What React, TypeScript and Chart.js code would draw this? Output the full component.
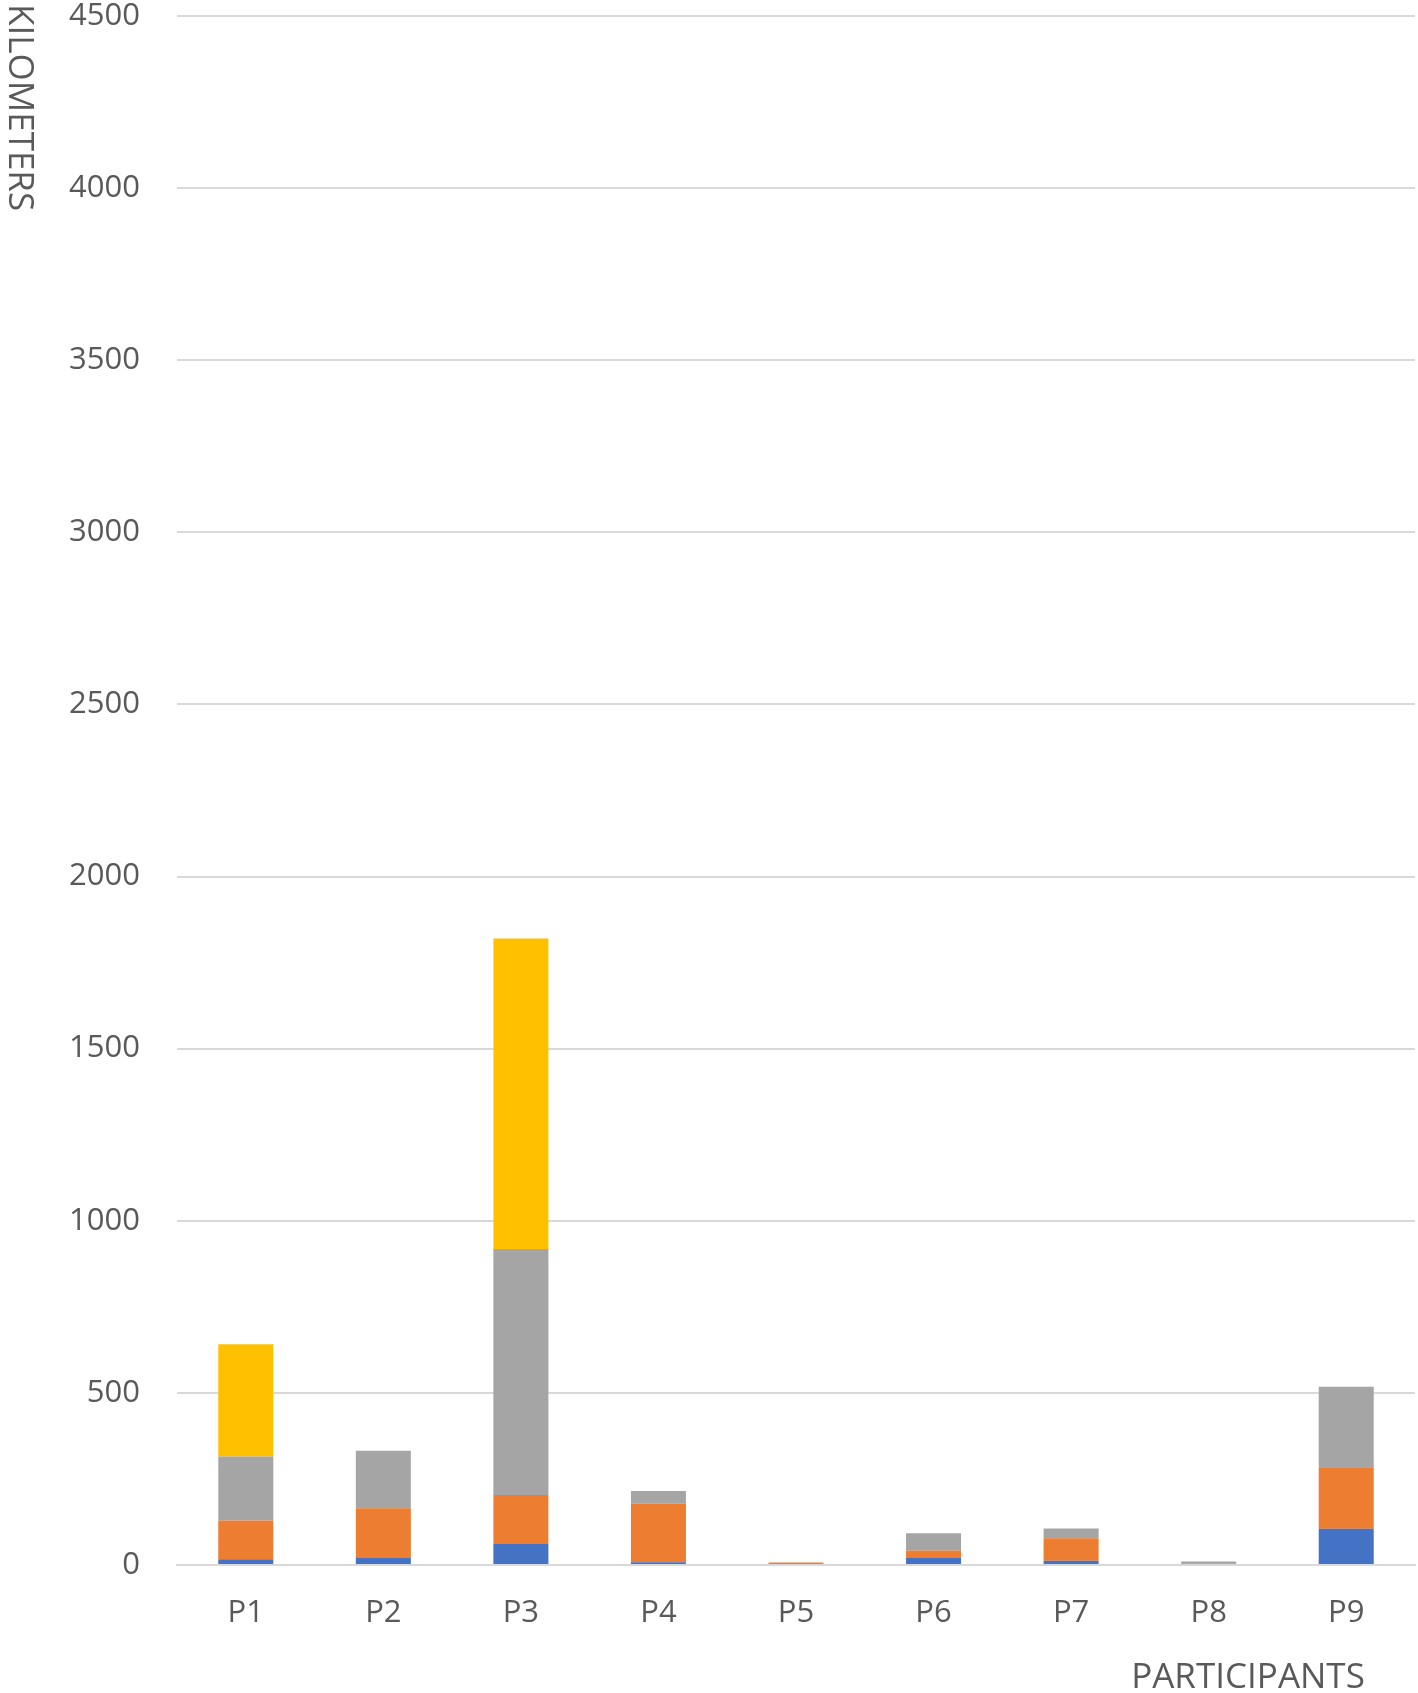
import React, { useEffect, useRef } from "react";
import { Chart, registerables } from "chart.js";

Chart.register(...registerables);

const categories = ["P1", "P2", "P3", "P4", "P5", "P6", "P7", "P8", "P9"];
const series1 = [17, 20, 61, 8, 0, 20, 12, 3, 105];
const series2 = [112, 145, 142, 170, 7, 22, 66, 2, 179];
const series3 = [186, 167, 715, 37, 0, 50, 28, 5, 234];
const series4 = [326, 0, 902, 0, 0, 0, 0, 0, 0];
const yTicks = [0, 500, 1000, 1500, 2000, 2500, 3000, 3500, 4000, 4500];
const yTitle = "KILOMETERS";
const xTitle = "PARTICIPANTS";

const TEXT = "#595959";
const FONT = "'Open Sans', 'Noto Sans', sans-serif";

const titlesPlugin = {
  id: "customTitles",
  afterDraw(chart: any) {
    const ctx = chart.ctx;
    ctx.save();
    ctx.fillStyle = TEXT;
    ctx.font = `35px ${FONT}`;
    ctx.save();
    ctx.translate(19, 4);
    ctx.rotate(Math.PI / 2);
    ctx.textAlign = "left";
    ctx.textBaseline = "middle";
    ctx.fillText(yTitle, 0, 0);
    ctx.restore();
    ctx.textAlign = "center";
    ctx.textBaseline = "middle";
    ctx.fillText(xTitle, 1248, 1678);
    ctx.restore();
  },
};

export default function App() {
  const ref = useRef<HTMLCanvasElement | null>(null);
  useEffect(() => {
    document.body.style.margin = "0";
    const canvas = ref.current!;
    const chart = new Chart(canvas, {
      type: "bar",
      data: {
        labels: categories,
        datasets: [
          { label: "Series 1", data: series1, backgroundColor: "#4472C4" },
          { label: "Series 2", data: series2, backgroundColor: "#ED7D31" },
          { label: "Series 3", data: series3, backgroundColor: "#A5A5A5" },
          { label: "Series 4", data: series4, backgroundColor: "#FFC000" },
        ],
      },
      options: {
        responsive: false,
        animation: false,
        layout: { padding: { top: 16, right: 3, left: 0, bottom: 0 } },
        datasets: {
          bar: { barPercentage: 0.4, categoryPercentage: 1.0 },
        },
        plugins: {
          legend: { display: false },
          tooltip: { enabled: false },
        },
        scales: {
          x: {
            stacked: true,
            grid: { display: false, drawTicks: false },
            border: { display: true, color: "#d9d9d9", width: 2 },
            ticks: {
              color: TEXT,
              font: { family: FONT, size: 31, lineHeight: 1.2 },
              padding: 30,
            },
            afterFit: (s: any) => {
              s.height = 128;
              s.paddingLeft = 0;
              s.paddingRight = 0;
            },
          },
          y: {
            stacked: true,
            min: 0,
            max: 4500,
            afterBuildTicks: (s: any) => {
              s.ticks = yTicks.map((v) => ({ value: v }));
            },
            grid: { color: "#d9d9d9", lineWidth: 2, drawTicks: false },
            border: { display: false },
            ticks: {
              color: TEXT,
              font: { family: FONT, size: 31, lineHeight: 1 },
              padding: 37,
              callback: (v: any) => String(v),
            },
            afterFit: (s: any) => {
              s.width = 177;
              s.paddingTop = 0;
              s.paddingBottom = 0;
            },
          },
        },
      },
      plugins: [titlesPlugin],
    });
    return () => chart.destroy();
  }, []);
  return (
    <div style={{ width: 1418, height: 1693 }}>
      <canvas ref={ref} width={1418} height={1693} style={{ display: "block" }} />
    </div>
  );
}
